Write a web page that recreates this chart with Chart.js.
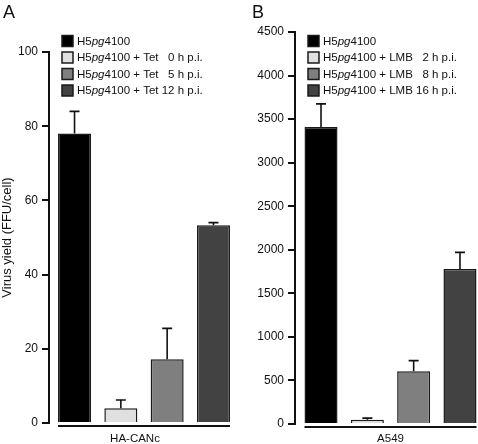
<!DOCTYPE html>
<html>
<head>
<meta charset="utf-8">
<script src="https://cdn.jsdelivr.net/npm/chart.js@4"></script>
<style>
  html, body { margin: 0; padding: 0; background: #fff; overflow: hidden; }
  body { width: 478px; height: 444px; position: relative; }
  canvas { position: absolute; top: 0; }
  #chartA { left: 0; }
  #chartB { left: 240px; }
</style>
</head>
<body>
<canvas id="chartA" width="240" height="444"></canvas>
<canvas id="chartB" width="250" height="444"></canvas>
<script>
const FONT = "'Liberation Sans', Arial, Helvetica, sans-serif";

// Panel A: HA-CANc cells, Tet added at different times
const seriesA = ['H5pg4100', 'H5pg4100 + Tet 0 h p.i.', 'H5pg4100 + Tet 5 h p.i.', 'H5pg4100 + Tet 12 h p.i.'];
const yieldA = [78, 4, 17.2, 53.3];
const errTopA = [84, 6.2, 25.5, 54];
const ticksA = [0, 20, 40, 60, 80, 100];

// Panel B: A549 cells, LMB added at different times
const seriesB = ['H5pg4100', 'H5pg4100 + LMB 2 h p.i.', 'H5pg4100 + LMB 8 h p.i.', 'H5pg4100 + LMB 16 h p.i.'];
const yieldB = [3410, 50, 605, 1780];
const errTopB = [3675, 68, 727, 1970];
const ticksB = [0, 500, 1000, 1500, 2000, 2500, 3000, 3500, 4000, 4500];

const fills = ['#000000', '#e0e0e0', '#7f7f7f', '#424242'];

// draws text, switching to italic for "pg"
function drawRich(ctx, text, x, y, size) {
  for (const part of text.split(/(pg)/)) {
    if (!part) continue;
    ctx.font = (part === 'pg' ? 'italic ' : '') + size + 'px ' + FONT;
    ctx.fillText(part, x, y);
    x += ctx.measureText(part).width;
  }
  return x;
}

function richWidth(ctx, text, size) {
  let w = 0;
  for (const part of text.split(/(pg)/)) {
    if (!part) continue;
    ctx.font = (part === 'pg' ? 'italic ' : '') + size + 'px ' + FONT;
    w += ctx.measureText(part).width;
  }
  return w;
}

const panelExtras = {
  id: 'panelExtras',
  afterDatasetsDraw(chart, args, opts) {
    const ctx = chart.ctx;
    const area = chart.chartArea;
    const y = chart.scales.y;
    const metas = chart.data.datasets.map((d, i) => chart.getDatasetMeta(i).data[0]);
    ctx.save();

    // error bars (upper only)
    ctx.strokeStyle = '#111';
    ctx.lineWidth = 1.6;
    metas.forEach((bar, i) => {
      const yTop = y.getPixelForValue(opts.errTop[i]);
      ctx.beginPath();
      ctx.moveTo(bar.x, bar.y);
      ctx.lineTo(bar.x, yTop);
      ctx.moveTo(bar.x - 5, yTop);
      ctx.lineTo(bar.x + 5, yTop);
      ctx.stroke();
    });

    // line under the bar group
    const first = metas[0], last = metas[metas.length - 1];
    const x0 = first.x - first.width / 2, x1 = last.x + last.width / 2;
    ctx.lineWidth = 2;
    ctx.beginPath();
    ctx.moveTo(x0, area.bottom + 3);
    ctx.lineTo(x1, area.bottom + 3);
    ctx.stroke();

    // cell line name
    ctx.fillStyle = '#111';
    ctx.font = '11.5px ' + FONT;
    ctx.textAlign = 'center';
    ctx.textBaseline = 'alphabetic';
    ctx.fillText(chart.data.labels[0], (x0 + x1) / 2 + opts.titleShift, 442);

    // panel letter
    ctx.textAlign = 'left';
    ctx.font = '18px ' + FONT;
    ctx.fillText(opts.letter, opts.letterX, 18);

    // legend
    const size = 11.5;
    const bx = area.left + 13;
    const tx = bx + 15;
    const rows = chart.data.datasets.map(d => {
      const m = d.label.match(/^(.*?)\s+(\d+ h p\.i\.)$/);
      return m ? { pre: m[1], suf: m[2] } : { pre: d.label, suf: '' };
    });
    const preW = Math.max(...rows.map(r => richWidth(ctx, r.pre, size)));
    ctx.font = size + 'px ' + FONT;
    const sufW = Math.max(...rows.map(r => ctx.measureText(r.suf).width));
    const sufRight = tx + preW + ctx.measureText(' ').width + sufW;
    rows.forEach((r, i) => {
      const cy = 41 + i * 16.5;
      ctx.fillStyle = chart.data.datasets[i].backgroundColor;
      ctx.fillRect(bx, cy - 5.5, 11, 11);
      ctx.strokeStyle = '#1a1a1a';
      ctx.lineWidth = 1.5;
      ctx.strokeRect(bx, cy - 5.5, 11, 11);
      ctx.fillStyle = '#111';
      ctx.textBaseline = 'middle';
      ctx.textAlign = 'left';
      drawRich(ctx, r.pre, tx, cy + 0.5, size);
      if (r.suf) {
        ctx.font = size + 'px ' + FONT;
        ctx.textAlign = 'right';
        ctx.fillText(r.suf, sufRight, cy + 0.5);
      }
    });
    ctx.restore();
  }
};

function makePanel(id, cfg) {
  return new Chart(document.getElementById(id), {
    type: 'bar',
    data: {
      labels: [cfg.cell],
      datasets: cfg.series.map((s, i) => ({
        label: s,
        data: [cfg.values[i]],
        backgroundColor: fills[i],
        borderColor: '#1a1a1a',
        borderWidth: 1.5,
        barPercentage: 0.713,
        categoryPercentage: cfg.catPct,
      })),
    },
    options: {
      responsive: false,
      animation: false,
      events: [],
      layout: { padding: cfg.padding },
      plugins: {
        legend: { display: false },
        tooltip: { enabled: false },
        panelExtras: {
          errTop: cfg.errTop,
          letter: cfg.letter,
          letterX: cfg.letterX,
          titleShift: cfg.titleShift,
        },
      },
      scales: {
        x: { display: false },
        y: {
          min: cfg.ticks[0],
          max: cfg.ticks[cfg.ticks.length - 1],
          afterBuildTicks: (scale) => { scale.ticks = cfg.ticks.map(v => ({ value: v })); },
          afterFit: (scale) => { scale.width = cfg.axisX; },
          grid: { drawOnChartArea: false, drawTicks: true, tickLength: 7, color: '#111', lineWidth: 2 },
          border: { display: true, color: '#111', width: 2 },
          ticks: {
            color: '#111',
            padding: 4,
            font: { family: FONT, size: 12 },
            callback: (v) => String(v),
          },
          title: {
            display: !!cfg.yTitle,
            text: cfg.yTitle,
            color: '#111',
            padding: { top: 0, bottom: 0 },
            font: { family: FONT, size: 13 },
          },
        },
      },
    },
    plugins: [panelExtras],
  });
}

makePanel('chartA', {
  cell: 'HA-CANc', series: seriesA, values: yieldA, errTop: errTopA, ticks: ticksA,
  yTitle: 'Virus yield (FFU/cell)', letter: 'A', letterX: 3, titleShift: -9,
  axisX: 49, catPct: 0.975, padding: { top: 52, bottom: 21, left: 0, right: 1 },
});

makePanel('chartB', {
  cell: 'A549', series: seriesB, values: yieldB, errTop: errTopB, ticks: ticksB,
  yTitle: '', letter: 'B', letterX: 12, titleShift: 0,
  axisX: 55, catPct: 0.970, padding: { top: 32, bottom: 20, left: 0, right: 4 },
});
</script>
</body>
</html>
